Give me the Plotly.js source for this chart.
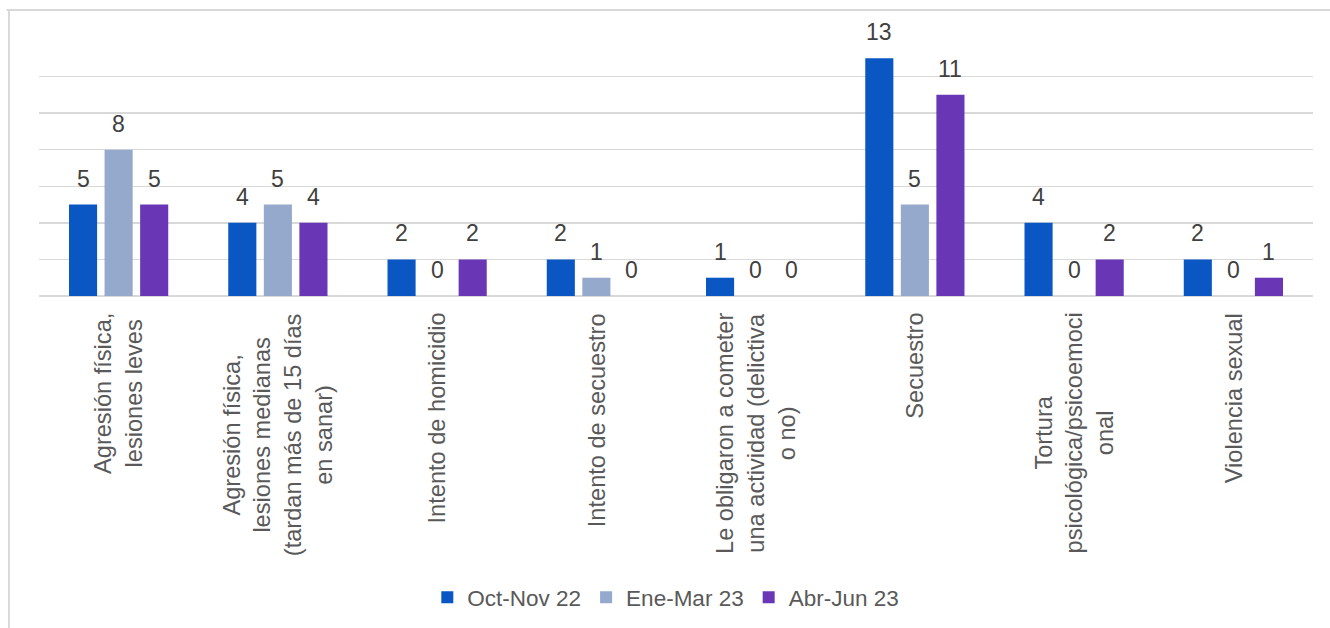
<!DOCTYPE html>
<html>
<head>
<meta charset="utf-8">
<script src="https://cdn.plot.ly/plotly-3.0.1.min.js"></script>
<style>
html,body{margin:0;padding:0;background:#fff;}
#chart{width:1330px;height:628px;}
</style>
</head>
<body>
<div id="chart"></div>
<script>
const categories = [
  "Agresión física,<br>lesiones leves",
  "Agresión física,<br>lesiones medianas<br>(tardan más de 15 días<br>en sanar)",
  "Intento de homicidio",
  "Intento de secuestro",
  "Le obligaron a cometer<br>una actividad (delictiva<br>o no)",
  "Secuestro",
  "Tortura<br>psicológica/psicoemoci<br>onal",
  "Violencia sexual"
];
const seriesNames = ["Oct-Nov 22", "Ene-Mar 23", "Abr-Jun 23"];
const octNov22 = [5, 4, 2, 2, 1, 13, 4, 2];
const eneMar23 = [8, 5, 0, 1, 0, 5, 0, 0];
const abrJun23 = [5, 4, 2, 0, 0, 11, 2, 1];
const colors = ["#0A57C4", "#95A9CC", "#6937B5"];

const seriesValues = [octNov22, eneMar23, abrJun23];
const xIdx = categories.map((c, i) => i);
const FONT = "Liberation Sans, Arial, sans-serif";
const BARGAP = 0.33;

const traces = seriesValues.map((vals, k) => ({
  type: "bar",
  name: seriesNames[k],
  x: xIdx,
  y: vals,
  marker: {color: colors[k]},
  hoverinfo: "skip"
}));

const annotations = categories.map((c, i) => ({
  x: i, xref: "x",
  y: -0.058, yref: "paper",
  text: c,
  textangle: -90,
  showarrow: false,
  xanchor: "center",
  yanchor: "top",
  align: "center",
  font: {family: FONT, size: 23.6, color: "#595959"}
}));

// data labels above each bar, placed through the x/y axes of the chart
const nS = seriesValues.length;
const slot = (1 - BARGAP) / nS;
seriesValues.forEach((vals, k) => {
  vals.forEach((v, i) => {
    annotations.push({
      x: i + (k - (nS - 1) / 2) * slot, xref: "x",
      y: v, yref: "y",
      text: String(v),
      showarrow: false,
      xanchor: "center",
      yanchor: "bottom",
      yshift: 11,
      font: {family: FONT, size: 23, color: "#404040"}
    });
  });
});

const layout = {
  width: 1330, height: 628,
  margin: {l: 39, r: 17, t: 40, b: 331},
  paper_bgcolor: "#ffffff",
  plot_bgcolor: "#ffffff",
  barmode: "group",
  bargap: BARGAP,
  bargroupgap: 0.21,
  showlegend: true,
  legend: {
    orientation: "h",
    x: 0.492, xanchor: "center",
    y: -1.17, yanchor: "middle",
    font: {family: FONT, size: 22.5, color: "#595959"},
    itemwidth: 30,
    traceorder: "normal"
  },
  xaxis: {
    range: [-0.5, categories.length - 0.5],
    showticklabels: false,
    showgrid: false,
    zeroline: false,
    showline: false,
    ticks: "",
    fixedrange: true
  },
  yaxis: {
    range: [0, 14],
    dtick: 2,
    showticklabels: false,
    showgrid: true,
    gridcolor: "#D9D9D9",
    gridwidth: 1.5,
    zeroline: true,
    zerolinecolor: "#D9D9D9",
    zerolinewidth: 1.5,
    showline: false,
    ticks: "",
    fixedrange: true
  },
  annotations: annotations,
  shapes: [
    {type: "line", xref: "paper", yref: "paper", x0: -0.0236, x1: -0.0236, y0: 1.117, y1: -1.5,
     line: {color: "#D9D9D9", width: 2}},
    {type: "line", xref: "paper", yref: "paper", x0: -0.0255, x1: 1.1, y0: 1.117, y1: 1.117,
     line: {color: "#D9D9D9", width: 2}}
  ]
};

Plotly.newPlot("chart", traces, layout, {displayModeBar: false, staticPlot: true});
</script>
</body>
</html>
